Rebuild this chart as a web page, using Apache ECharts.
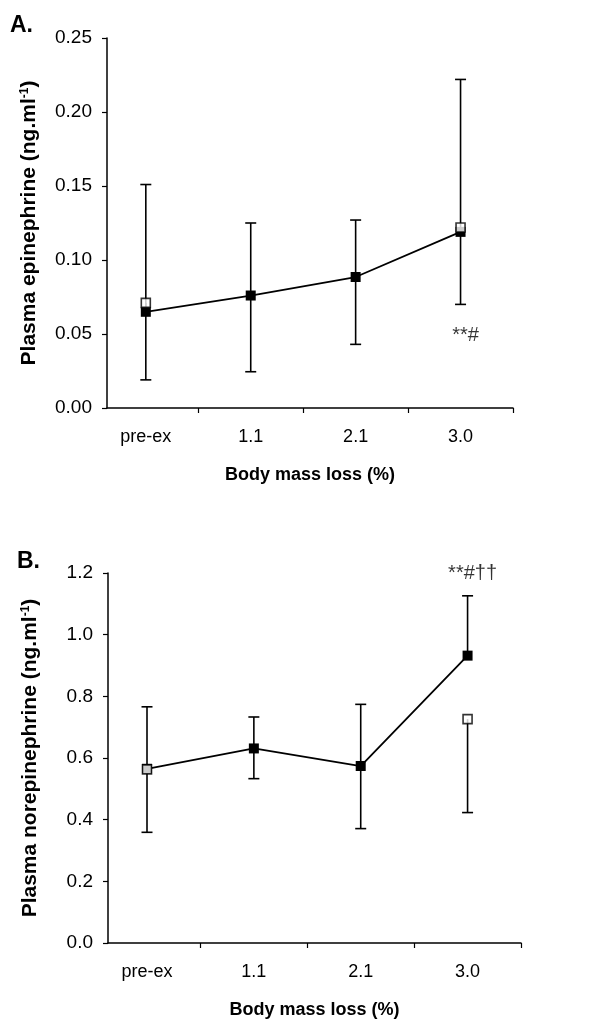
<!DOCTYPE html>
<html>
<head>
<meta charset="utf-8">
<script src="https://cdn.jsdelivr.net/npm/echarts@6/dist/echarts.min.js"></script>
<style>
  html, body { margin: 0; padding: 0; background: #fff; }
  #chart { width: 613px; height: 1022px; }
</style>
</head>
<body>
<div id="chart"></div>
<script>
// categories on x (body mass loss, %), placed at positions 0..3
const categories = ['pre-ex', '1.1', '2.1', '3.0'];
const catPos = [0, 1, 2, 3];
const bandEdges = [0.5, 1.5, 2.5, 3.5];

// panel A: plasma epinephrine (ng/ml)
const epiFilled = [0.065, 0.076, 0.0885, 0.119];
const epiFilledUpper = [0.151, 0.125, 0.127, 0.222];
const epiFilledLower = [null, 0.0245, 0.043, null];
const epiOpen = [0.071, null, null, 0.122];
const epiOpenLower = [0.019, null, null, 0.070];
const epiTicks = [0, 0.05, 0.10, 0.15, 0.20, 0.25];

// panel B: plasma norepinephrine (ng/ml)
const norFilled = [0.565, 0.631, 0.574, 0.932];
const norFilledUpper = [0.766, 0.733, 0.774, 1.126];
const norFilledLower = [null, 0.533, 0.371, null];
const norOpen = [0.563, null, null, 0.726];
const norOpenLower = [0.359, null, null, 0.423];
const norTicks = [0, 0.2, 0.4, 0.6, 0.8, 1.0, 1.2];

// significance marks
const annotA = [[3, 0.049, '**#']];
const annotB = [[3, 1.2, '**#††']];

const FONT = "'Liberation Sans', Arial, sans-serif";

function pairs(vals) {
  const out = [];
  vals.forEach((v, i) => { if (v != null) out.push([catPos[i], v]); });
  return out;
}

function errData(means, bounds) {
  const out = [];
  means.forEach((m, i) => {
    if (m != null && bounds[i] != null) out.push([catPos[i], m, bounds[i]]);
  });
  return out;
}

function renderErr(params, api) {
  const x = api.value(0);
  const p1 = api.coord([x, api.value(1)]);
  const p2 = api.coord([x, api.value(2)]);
  const style = { stroke: '#000', lineWidth: 1.6 };
  return {
    type: 'group',
    children: [
      { type: 'line', shape: { x1: p1[0], y1: p1[1], x2: p2[0], y2: p2[1] }, style: style },
      { type: 'line', shape: { x1: p2[0] - 5.5, y1: p2[1], x2: p2[0] + 5.5, y2: p2[1] }, style: style }
    ]
  };
}

function xAxisFor(idx, minX) {
  return {
    type: 'value',
    gridIndex: idx,
    min: minX,
    max: 3.5,
    name: 'Body mass loss (%)',
    nameLocation: 'middle',
    nameGap: 58,
    nameTextStyle: { fontFamily: FONT, fontWeight: 'bold', fontSize: 18, color: '#000' },
    axisLine: { onZero: false, lineStyle: { color: '#000', width: 1.5 } },
    axisTick: { length: 5, customValues: bandEdges, lineStyle: { color: '#000', width: 1.2 } },
    axisLabel: { fontFamily: FONT, fontSize: 18, color: '#000', margin: 20,
      customValues: catPos, formatter: v => categories[Math.round(v)] },
    splitLine: { show: false }
  };
}

function yAxisFor(idx, ticks, digits, title) {
  return {
    type: 'value',
    gridIndex: idx,
    min: ticks[0],
    max: ticks[ticks.length - 1],
    interval: ticks[1] - ticks[0],
    name: title,
    nameLocation: 'middle',
    nameGap: 67,
    nameTextStyle: {
      fontFamily: FONT, fontWeight: 'bold', fontSize: 21, color: '#000',
      rich: {
        a: { fontFamily: FONT, fontWeight: 'bold', fontSize: 21, color: '#000' },
        s: { fontFamily: FONT, fontWeight: 'bold', fontSize: 12, color: '#000', verticalAlign: 'top', padding: [0, 0, 9, 0] }
      }
    },
    axisLine: { show: true, onZero: false, lineStyle: { color: '#000', width: 1.5 } },
    axisTick: { show: true, length: 5, lineStyle: { color: '#000', width: 1.2 } },
    axisLabel: { fontFamily: FONT, fontSize: 19, color: '#000', margin: 15,
      formatter: v => v.toFixed(digits) },
    splitLine: { show: false }
  };
}

function panelSeries(idx, filled, fUp, fLo, open, oLo, annot) {
  return [
    {
      type: 'custom', xAxisIndex: idx, yAxisIndex: idx, z: 1,
      renderItem: renderErr,
      data: errData(filled, fUp).concat(errData(filled, fLo)).concat(errData(open, oLo))
    },
    {
      type: 'line', xAxisIndex: idx, yAxisIndex: idx, z: 3,
      data: pairs(filled), symbol: 'rect', symbolSize: 10,
      lineStyle: { color: '#000', width: 1.8 },
      itemStyle: { color: '#000' }
    },
    {
      type: 'scatter', xAxisIndex: idx, yAxisIndex: idx, z: 4,
      data: pairs(open), symbol: 'rect', symbolSize: 9,
      itemStyle: { color: '#fff', borderColor: '#000', borderWidth: 1.6 }
    },
    {
      type: 'scatter', xAxisIndex: idx, yAxisIndex: idx, z: 5,
      data: annot.map(a => ({ value: [a[0], a[1]], text: a[2] })),
      symbolSize: 0,
      label: {
        show: true, position: 'inside', offset: [5, 0],
        formatter: p => p.data.text,
        fontFamily: FONT, fontSize: 20, color: '#000'
      }
    }
  ];
}

const chart = echarts.init(document.getElementById('chart'), null, { renderer: 'canvas' });

chart.setOption({
  backgroundColor: '#fff',
  animation: false,
  grid: [
    { left: 107, right: 100, top: 38, height: 370 },
    { left: 108, right: 92, top: 573, height: 370 }
  ],
  xAxis: [xAxisFor(0, -0.37), xAxisFor(1, -0.365)],
  yAxis: [
    yAxisFor(0, epiTicks, 2, '{a|Plasma epinephrine (ng.ml}{s|-1}{a|)}'),
    yAxisFor(1, norTicks, 1, '{a|Plasma norepinephrine (ng.ml}{s|-1}{a|)}')
  ],
  graphic: [
    { type: 'text', left: 10, top: 14, style: { text: 'A.', fontFamily: FONT, fontWeight: 'bold', fontSize: 23, fill: '#000' } },
    { type: 'text', left: 17, top: 550, style: { text: 'B.', fontFamily: FONT, fontWeight: 'bold', fontSize: 23, fill: '#000' } }
  ],
  series: []
    .concat(panelSeries(0, epiFilled, epiFilledUpper, epiFilledLower, epiOpen, epiOpenLower, annotA))
    .concat(panelSeries(1, norFilled, norFilledUpper, norFilledLower, norOpen, norOpenLower, annotB))
});
</script>
</body>
</html>
